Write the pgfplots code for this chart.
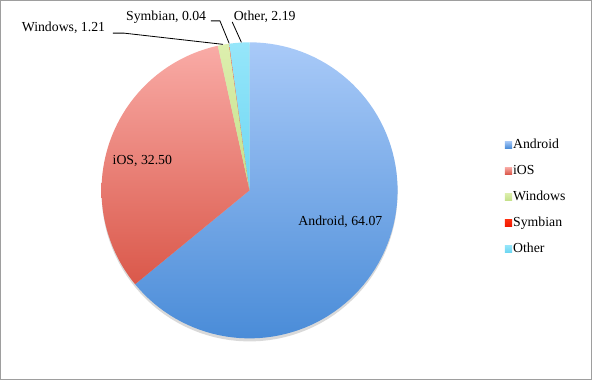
\documentclass[border=0pt]{standalone}
\usepackage{pgfplots}
\pgfplotsset{compat=1.18}
\usepackage{fontspec}
\setmainfont{Liberation Serif}
\definecolor{andT}{HTML}{A9CAF8}
\definecolor{andB}{HTML}{4A8CD8}
\definecolor{iosT}{HTML}{F9ABA6}
\definecolor{iosB}{HTML}{DA584A}
\definecolor{winT}{HTML}{DDEFAE}
\definecolor{winB}{HTML}{C4E08A}
\definecolor{symT}{HTML}{FF3010}
\definecolor{symB}{HTML}{F01800}
\definecolor{othT}{HTML}{96E6FA}
\definecolor{othB}{HTML}{6CD6F2}
\definecolor{andL}{HTML}{5E9BE2}
\definecolor{iosL}{HTML}{E46C68}
\definecolor{winL}{HTML}{BBD97E}
\definecolor{symL}{HTML}{FF2200}
\definecolor{othL}{HTML}{62D0F0}
% shares (percent)
\def\vAndroid{64.07}
\def\viOS{32.50}
\def\vWindows{1.21}
\def\vSymbian{0.04}
\def\vOther{2.19}
\pgfmathsetmacro\cA{\vAndroid}
\pgfmathsetmacro\cB{\cA+\viOS}
\pgfmathsetmacro\cC{\cB+\vWindows}
\pgfmathsetmacro\cD{\cC+\vSymbian}
\pgfmathsetmacro\cE{\cD+\vOther}
\pgfmathsetmacro\tot{\cE}
% slice: start, end (cumulative percent), top colour, bottom colour, legend colour
\newcommand{\slice}[5]{%
  \addplot[draw=none, top color=#3, bottom color=#4, domain=#1:#2, samples=90,
    variable=\t,
    legend image code/.code={\fill[#5] (0bp,-3.5bp) rectangle (7bp,3.5bp);}]
    ({251+145*sin(360*\t/\tot)}, {193-145*cos(360*\t/\tot)}) -- (axis cs:251,193) -- cycle;
}
\begin{document}
\begin{tikzpicture}
\begin{axis}[scale only axis, width=592bp, height=383bp,
  xmin=0, xmax=592, ymin=0, ymax=383, y dir=reverse,
  hide axis, clip=false,
  legend style={at={(axis cs:501,141)}, anchor=north west, draw=none, fill=none,
    font=\fontsize{13.5bp}{15bp}\selectfont, row sep=11.5bp, inner sep=0pt,
    nodes={text height=9.5bp, text depth=2.5bp, inner sep=1bp},
    cells={anchor=west}},
  legend cell align=left]
\draw[black!38, line width=0.9bp] (axis cs:7,7) rectangle (axis cs:586,378);
\addplot[draw=none, fill=black, fill opacity=0.15, domain=0:100, samples=120, variable=\t, forget plot]
  ({251+145*sin(3.6*\t)}, {195.5-145.5*cos(3.6*\t)});
\slice{0}{\cA}{andT}{andB}{andL}
\slice{\cA}{\cB}{iosT}{iosB}{iosL}
\slice{\cB}{\cC}{winT}{winB}{winL}
\slice{\cC}{\cD}{symT}{symB}{symL}
\slice{\cD}{\cE}{othT}{othB}{othL}
\legend{Android,iOS,Windows,Symbian,Other}
\begin{scope}[font=\fontsize{13.5bp}{15bp}\selectfont]
\node at (axis cs:340,224) {Android, 64.07};
\node at (axis cs:146,164) {iOS, 32.50};
\node[anchor=east] at (axis cs:113,34) {Windows, 1.21};
\node[anchor=east] at (axis cs:212,23) {Symbian, 0.04};
\node[anchor=west] at (axis cs:232,23) {Other, 2.19};
\draw[black, line width=0.8bp] (axis cs:117,39) -- (axis cs:128,39) -- (axis cs:225,50);
\draw[black, line width=0.8bp] (axis cs:213,27) -- (axis cs:222,27) -- (axis cs:231,49);
\draw[black, line width=0.8bp] (axis cs:234,28) -- (axis cs:243,48);
\end{scope}
\end{axis}
\end{tikzpicture}
\end{document}
